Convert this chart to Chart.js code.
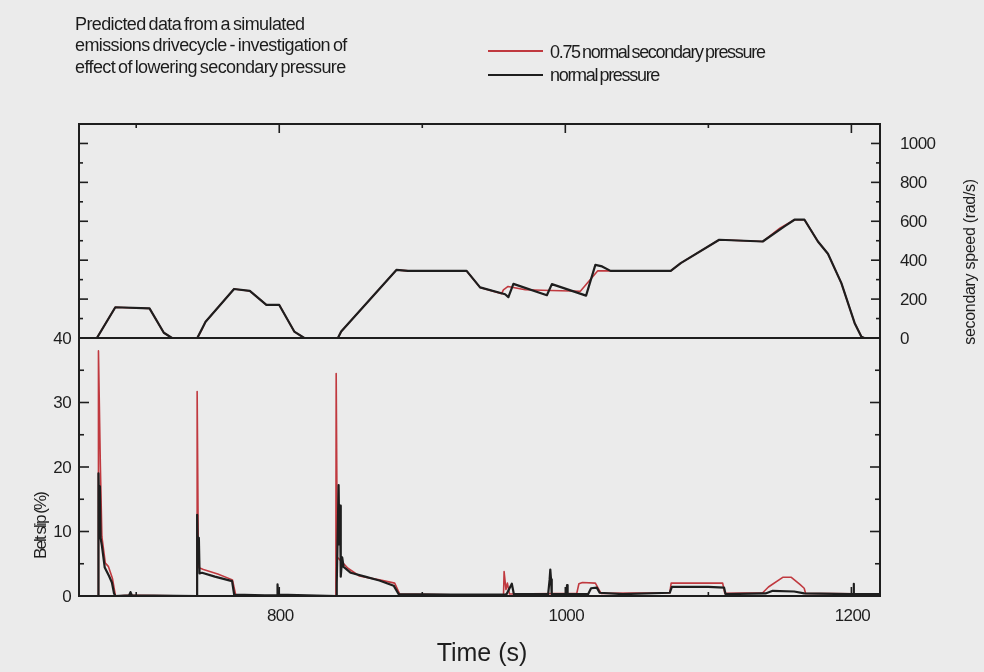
<!DOCTYPE html>
<html>
<head>
<meta charset="utf-8">
<title>Belt slip and secondary speed over a drivecycle</title>
<script src="https://cdn.jsdelivr.net/npm/chart.js@4.4.1/dist/chart.umd.min.js"></script>
<style>
  html, body { margin: 0; padding: 0; background: #ebebeb; }
  #wrap { position: relative; width: 984px; height: 672px; overflow: hidden; background: #ebebeb; }
  #plot { position: absolute; left: 0; top: 0; }
  .txt { position: absolute; font-family: "Liberation Sans", Arial, sans-serif; color: #1c1c1c; white-space: nowrap; }
  #title { left: 75px; top: 13.7px; font-size: 18px; line-height: 21.7px; letter-spacing: -0.6px; word-spacing: -1.5px; }
  .key { position: absolute; height: 2px; width: 55px; left: 488px; }
  .keytxt { left: 550px; font-size: 18px; line-height: 22px; letter-spacing: -1.3px; word-spacing: -1.5px; }
</style>
</head>
<body>
<div id="wrap">
  <canvas id="plot" width="984" height="672"></canvas>
  <div id="title" class="txt">Predicted data from a simulated<br>emissions drivecycle - investigation of<br>effect of lowering secondary pressure</div>
  <div class="key" style="top:50px; background:#c0393f;"></div>
  <div class="txt keytxt" style="top:41.3px;">0.75 normal secondary pressure</div>
  <div class="key" style="top:74px; background:#1e1e1e;"></div>
  <div class="txt keytxt" style="top:63.7px;">normal pressure</div>
</div>
<script>
// Secondary pulley speed (rad/s) against time (s)
const speedTimeNormal = [660, 672.5, 685.4, 709.3, 719.3, 725, 742.7, 748.5, 768.4, 779.4, 791, 800, 810.5, 817.5, 841, 843.3, 881.9, 890, 931, 940.4, 957.9, 960.2, 963.7, 987.1, 990.6, 1014.5, 1021, 1025.7, 1031.6, 1073.7, 1080.7, 1107.6, 1138, 1153.2, 1160.2, 1167.2, 1176.6, 1183.6, 1193, 1202.3, 1207, 1209, 1220];
const speedNormal     = [0, 0, 158, 152, 27, 0, 0, 84, 252, 242, 170, 170, 33, 0, 0, 33, 350, 345, 345, 260, 225, 210, 278, 220, 277, 218, 376, 368, 345, 345, 385, 505, 496, 574, 608, 608, 496, 433, 282, 76, 7, 0, 0];
const speedTimeReduced = [660, 672.5, 685.4, 709.3, 719.3, 725, 742.7, 746, 748.5, 768.4, 779.4, 791, 800, 810.5, 817.5, 841, 843.3, 881.9, 890, 931, 940.4, 955.5, 956.7, 960, 972, 990, 1010.5, 1022.7, 1031.6, 1073.7, 1080.7, 1107.6, 1138, 1150, 1160.2, 1167.2, 1176.6, 1183.6, 1193, 1202.3, 1207, 1209, 1220];
const speedReduced     = [0, 0, 158, 152, 27, 0, 0, 45, 84, 252, 242, 170, 170, 33, 0, 0, 33, 350, 345, 345, 260, 228, 247, 265, 248, 244, 240, 346, 345, 345, 385, 505, 496, 565, 608, 608, 496, 433, 282, 76, 7, 0, 0];

// Belt slip (%) against time (s)
const slipTimeNormal = [660, 673.5, 673.6, 674.2, 674.6, 675.1, 676, 678, 681, 683, 684.5, 685.5, 695, 696, 697, 742.5, 742.6, 743.2, 743.8, 744.3, 746, 755, 767, 768.5, 790, 798.5, 798.8, 799.2, 839.7, 840.2, 841.5, 842, 842.5, 843, 844, 845, 850, 860, 870, 880, 883.5, 920, 957, 959, 961, 962.6, 964, 988, 989, 989.5, 990, 990.5, 1000.8, 1001.2, 1001.6, 1016, 1018, 1022, 1024, 1040, 1073, 1074.5, 1100, 1111, 1112, 1140, 1145, 1160, 1167, 1200, 1201.4, 1201.6, 1201.8, 1220];
const slipNormal     = [0, 0, 19, 12, 17, 9, 7.8, 4.4, 3.1, 2.1, 0.4, 0, 0.1, 0.6, 0.1, 0, 12.6, 6, 9, 3.5, 3.6, 3.0, 2.3, 0.2, 0.1, 0.1, 1.8, 0.2, 0, 2, 17.2, 8, 14, 3, 6, 4.5, 3.6, 3.0, 2.4, 1.6, 0.3, 0.2, 0.2, 0.3, 1.2, 1.9, 0.3, 0.3, 2.5, 4.1, 2.6, 0.3, 0.3, 1.7, 0.3, 0.3, 1.2, 1.3, 0.5, 0.3, 0.5, 1.4, 1.4, 1.3, 0.3, 0.4, 0.8, 0.7, 0.4, 0.3, 0.3, 1.9, 0.3, 0.3];
const slipTimeReduced = [660, 673.5, 673.6, 674.9, 676, 678.4, 680.5, 683.4, 685.5, 695, 742.5, 742.6, 743.5, 747, 757, 767.3, 769.7, 839.5, 839.6, 839.8, 840.6, 843.3, 848, 856, 870, 880.7, 884.2, 920, 956.8, 957.2, 958.5, 959.5, 961, 1008, 1009.5, 1012, 1021, 1023.5, 1025, 1073, 1074, 1090, 1110, 1111.5, 1138, 1142, 1152, 1158, 1164, 1167, 1168, 1220];
const slipReduced     = [0, 0, 38, 20.6, 9.2, 5.1, 4.6, 2.7, 0, 0.1, 0, 31.7, 4.4, 4.1, 3.4, 2.5, 0, 0, 6, 34.5, 6, 5.4, 4.3, 3.1, 2.5, 2.0, 0.3, 0.2, 0.2, 3.8, 1.0, 2.0, 0.3, 0.4, 1.9, 2.1, 2.0, 1.0, 0.4, 0.5, 2.0, 2.0, 2.0, 0.4, 0.5, 1.4, 2.9, 2.9, 1.8, 1.2, 0.4, 0.3];

// Axis ticks
const timeTicks = [700, 800, 900, 1000, 1100, 1200];
const timeTickLabels = [800, 1000, 1200];
const speedTicks = [100, 200, 300, 400, 500, 600, 700, 800, 900, 1000];
const speedTickLabels = [0, 200, 400, 600, 800, 1000];
const slipTicks = [5, 10, 15, 20, 25, 30, 35];
const slipTickLabels = [0, 10, 20, 30, 40];

const INK = '#1e1e1e';
const RED = '#c0393f';
const FONT = '"Liberation Sans", Arial, sans-serif';

const toPoints = (xs, ys) => xs.map((t, i) => ({ x: t, y: ys[i] }));

// Frame, inward ticks, separator and axis text for the two stacked panels
const panelFrame = {
  id: 'panelFrame',
  afterDatasetsDraw(chart) {
    const { ctx, chartArea: a, scales } = chart;
    const x = scales.x, ys = scales.ySpeed, yb = scales.ySlip;
    const seg = (x1, y1, x2, y2) => { ctx.beginPath(); ctx.moveTo(x1, y1); ctx.lineTo(x2, y2); ctx.stroke(); };
    ctx.save();
    ctx.strokeStyle = INK;
    ctx.lineWidth = 2;
    ctx.strokeRect(a.left, a.top, a.right - a.left, a.bottom - a.top);
    const sep = yb.getPixelForValue(40);
    seg(a.left, sep, a.right, sep);

    ctx.lineWidth = 1.6;
    timeTicks.forEach(t => {
      const px = x.getPixelForValue(t);
      const len = timeTickLabels.includes(t) ? 9 : 4;
      seg(px, a.top, px, a.top + len);
      seg(px, a.bottom, px, a.bottom - len);
    });
    speedTicks.forEach(v => {
      const py = ys.getPixelForValue(v);
      const len = v % 200 === 0 ? 9 : 4;
      seg(a.left, py, a.left + len, py);
      seg(a.right, py, a.right - len, py);
    });
    slipTicks.forEach(v => {
      const py = yb.getPixelForValue(v);
      const len = v % 10 === 0 ? 10 : 5;
      seg(a.left, py, a.left + len, py);
      seg(a.right, py, a.right - len, py);
    });

    ctx.fillStyle = INK;
    ctx.textBaseline = 'middle';
    ctx.font = '17px ' + FONT;
    if ('letterSpacing' in ctx) ctx.letterSpacing = '-0.6px';
    ctx.textAlign = 'right';
    slipTickLabels.forEach(v => ctx.fillText(String(v), a.left - 8, yb.getPixelForValue(v) + 1));
    ctx.textAlign = 'left';
    speedTickLabels.forEach(v => ctx.fillText(String(v), a.right + 20, ys.getPixelForValue(v) + 1));
    ctx.textAlign = 'center';
    ctx.textBaseline = 'top';
    timeTickLabels.forEach(t => ctx.fillText(String(t), x.getPixelForValue(t) + 1, a.bottom + 12));

    ctx.font = '25px ' + FONT;
    if ('letterSpacing' in ctx) ctx.letterSpacing = '0px';
    ctx.textBaseline = 'alphabetic';
    ctx.fillText('Time (s)', 482, 661);

    ctx.font = '17px ' + FONT;
    if ('letterSpacing' in ctx) ctx.letterSpacing = '-1.9px';
    ctx.save();
    ctx.translate(46, 526);
    ctx.rotate(-Math.PI / 2);
    ctx.textAlign = 'center';
    ctx.fillText('Belt slip (%)', 0, 0);
    ctx.restore();

    ctx.font = '16px ' + FONT;
    if ('letterSpacing' in ctx) ctx.letterSpacing = '-0.3px';
    ctx.save();
    ctx.translate(975, 262);
    ctx.rotate(-Math.PI / 2);
    ctx.textAlign = 'center';
    ctx.fillText('secondary speed (rad/s)', 0, 0);
    ctx.restore();
    ctx.restore();
  }
};

new Chart(document.getElementById('plot'), {
  type: 'line',
  data: {
    datasets: [
      { label: 'normal pressure', data: toPoints(speedTimeNormal, speedNormal), yAxisID: 'ySpeed', borderColor: INK, borderWidth: 2.2, order: 1 },
      { label: '0.75 normal secondary pressure', data: toPoints(speedTimeReduced, speedReduced), yAxisID: 'ySpeed', borderColor: RED, borderWidth: 1.6, order: 2 },
      { label: 'normal pressure', data: toPoints(slipTimeNormal, slipNormal), yAxisID: 'ySlip', borderColor: INK, borderWidth: 2.2, order: 1 },
      { label: '0.75 normal secondary pressure', data: toPoints(slipTimeReduced, slipReduced), yAxisID: 'ySlip', borderColor: RED, borderWidth: 1.6, order: 2 }
    ]
  },
  options: {
    responsive: false,
    animation: false,
    events: [],
    layout: { padding: { left: 79, right: 104, top: 124, bottom: 76 } },
    elements: { point: { radius: 0 }, line: { tension: 0, borderJoinStyle: 'round' } },
    plugins: { legend: { display: false }, tooltip: { enabled: false } },
    scales: {
      x: { type: 'linear', min: 660, max: 1220, display: false },
      ySpeed: { type: 'linear', position: 'left', min: 0, max: 1100, stack: 'panels', stackWeight: 214, weight: 1, display: false },
      ySlip: { type: 'linear', position: 'left', min: 0, max: 40, stack: 'panels', stackWeight: 258, weight: 0, display: false }
    }
  },
  plugins: [panelFrame]
});
</script>
</body>
</html>
